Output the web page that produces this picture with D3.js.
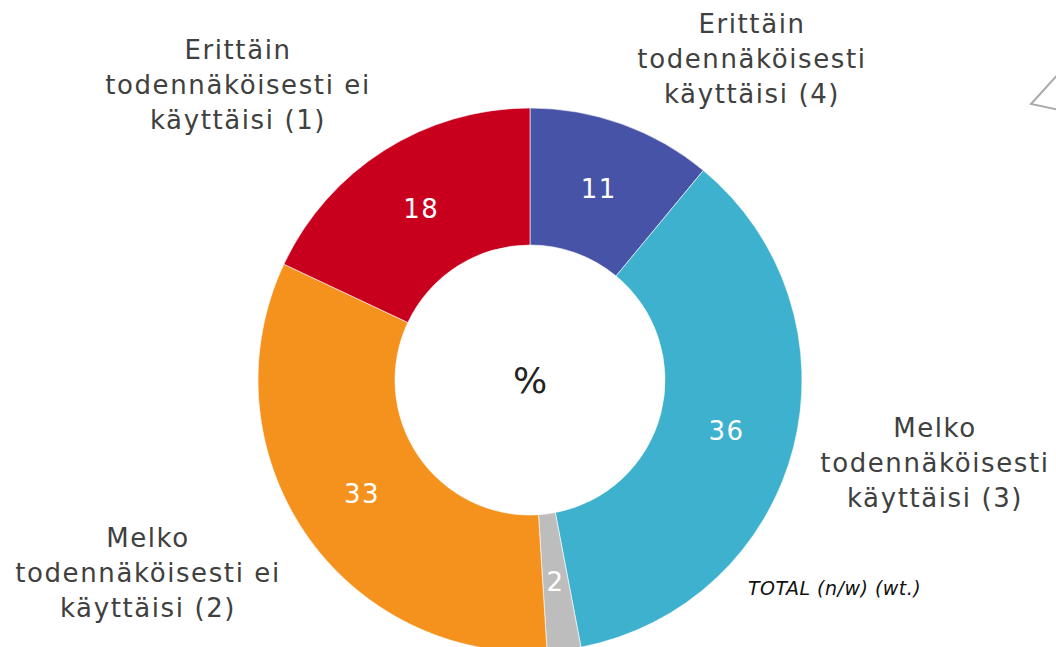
<!DOCTYPE html>
<meta charset="utf-8">
<script src="https://d3js.org/d3.v7.min.js"></script>
<style>
body { margin: 0; background: #fff; }
svg text { font-family: "DejaVu Sans", Verdana, sans-serif; }
</style>
<body>
<div id="canvas"></div>
<script>

// data, clockwise from the top
var categories = ["Erittäin todennäköisesti käyttäisi (4)", "Melko todennäköisesti käyttäisi (3)", "En osaa sanoa", "Melko todennäköisesti ei käyttäisi (2)", "Erittäin todennäköisesti ei käyttäisi (1)"];
var values = [11, 36, 2, 33, 18];
var colors = ["#4753A6", "#3EB1CE", "#BDBDBD", "#F5921E", "#C8001E"];

// outer labels (line breaks) and their anchor points
var labelLines = [
    ["Erittäin", "todennäköisesti", "käyttäisi (4)"],
    ["Melko", "todennäköisesti", "käyttäisi (3)"],
    null,
    ["Melko", "todennäköisesti ei", "käyttäisi (2)"],
    ["Erittäin", "todennäköisesti ei", "käyttäisi (1)"]
];
var labelPos = [[752, 24], [935, 428], null, [148, 538], [238, 50]];

var width = 1056, height = 647;
var cx = 530, cy = 380;
var outerR = 272, innerR = 135;

var svg = d3.select("#canvas")
    .append("svg")
    .attr("width", width)
    .attr("height", height);

var pie = d3.pie().sort(null).value(function(d) { return d; });
var arc = d3.arc().innerRadius(innerR).outerRadius(outerR);
var labelArc = d3.arc().innerRadius(203).outerRadius(203);

var g = svg.append("g")
    .attr("transform", "translate(" + cx + "," + cy + ")");

var slices = g.selectAll(".slice")
    .data(pie(values))
    .enter()
    .append("g")
    .attr("class", "slice");

slices.append("path")
    .attr("d", arc)
    .attr("fill", function(d, i) { return colors[i]; })
    .attr("stroke", "#fff")
    .attr("stroke-width", 0.6);

slices.append("text")
    .attr("transform", function(d) { return "translate(" + labelArc.centroid(d) + ")"; })
    .attr("text-anchor", "middle")
    .attr("dy", "0.35em")
    .attr("fill", "#fff")
    .style("font-size", "26px")
    .style("letter-spacing", "1.5px")
    .text(function(d) { return d.value; });

// centre
g.append("text")
    .attr("text-anchor", "middle")
    .attr("dy", "0.35em")
    .attr("fill", "#222")
    .style("font-size", "36px")
    .text("%");

// category labels
labelLines.forEach(function(lines, i) {
    if (!lines) return;
    var t = svg.append("text")
        .attr("text-anchor", "middle")
        .attr("fill", "#404040")
        .style("font-size", "26px")
        .style("letter-spacing", "1.6px");
    lines.forEach(function(s, j) {
        t.append("tspan")
            .attr("x", labelPos[i][0])
            .attr("y", labelPos[i][1] + j * 35)
            .attr("dy", "0.35em")
            .text(s);
    });
});

svg.append("text")
    .attr("x", 748)
    .attr("y", 595)
    .attr("fill", "#111")
    .style("font-size", "19px")
    .style("font-style", "italic")
    .style("letter-spacing", "0.5px")
    .text("TOTAL (n/w) (wt.)");

// cut-off shape at the right edge
svg.append("path")
    .attr("d", "M1060,72 L1031,104 L1060,110")
    .attr("fill", "none")
    .attr("stroke", "#aaa")
    .attr("stroke-width", 2);

</script>
</body>
